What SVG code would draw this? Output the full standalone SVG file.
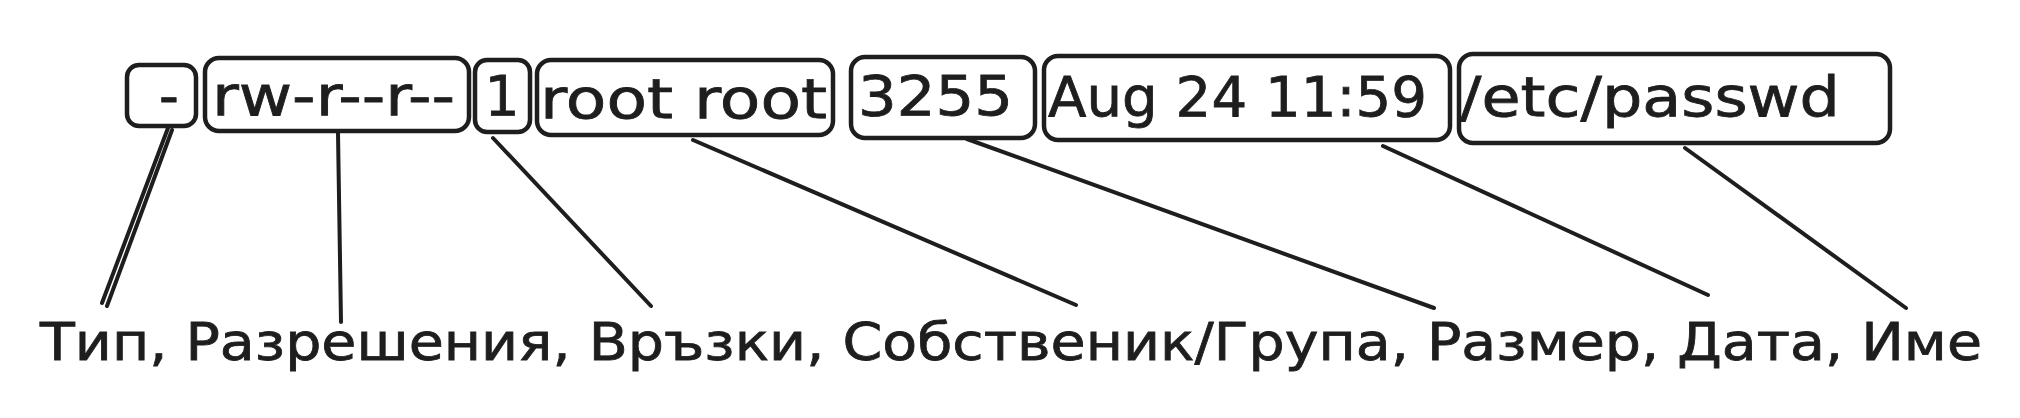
<svg xmlns="http://www.w3.org/2000/svg" width="2020" height="418" viewBox="0 0 2020 418">
<style>
.box{fill:none;stroke:#1e1e1e;stroke-width:4.5;stroke-linejoin:round}
.ln{fill:none;stroke:#1e1e1e;stroke-width:4;stroke-linecap:round}
.t{font-family:"DejaVu Sans","Liberation Sans",sans-serif;font-size:55px;fill:#1e1e1e;stroke:#1e1e1e;stroke-width:0.8}
.lbl{font-family:"DejaVu Sans","Liberation Sans",sans-serif;font-size:51px;fill:#1e1e1e;stroke:#1e1e1e;stroke-width:0.8}
</style>
<rect width="2020" height="418" fill="#ffffff"/>
<g id="connectors">
<line class="ln" x1="168" y1="128" x2="102" y2="303"/>
<line class="ln" x1="172" y1="130" x2="107" y2="306"/>
<line class="ln" x1="338" y1="133" x2="341" y2="322"/>
<line class="ln" x1="493" y1="138" x2="651" y2="306"/>
<line class="ln" x1="693" y1="140" x2="1076" y2="305"/>
<line class="ln" x1="967" y1="139" x2="1434" y2="308"/>
<line class="ln" x1="1383" y1="146" x2="1708" y2="295"/>
<line class="ln" x1="1685" y1="148" x2="1906" y2="308"/>
</g>
<g id="node-type">
<rect class="box" x="127" y="65" width="69" height="61" rx="12"/>
<text class="t" x="169" y="115" text-anchor="middle">-</text>
</g>
<g id="node-perms">
<rect class="box" x="205" y="58" width="264" height="73" rx="14"/>
<text class="t" x="212" y="115" textLength="243" lengthAdjust="spacingAndGlyphs">rw-r--r--</text>
</g>
<g id="node-links">
<rect class="box" x="475" y="60" width="55" height="72" rx="12"/>
<text class="t" x="502" y="115" text-anchor="middle">1</text>
</g>
<g id="node-owner">
<rect class="box" x="537" y="60" width="296" height="75" rx="14"/>
<text class="t" x="540" y="118" textLength="287" lengthAdjust="spacingAndGlyphs">root root</text>
</g>
<g id="node-size">
<rect class="box" x="851" y="57" width="184" height="81" rx="14"/>
<text class="t" x="858" y="115" textLength="155" lengthAdjust="spacingAndGlyphs">3255</text>
</g>
<g id="node-date">
<rect class="box" x="1044" y="56" width="406" height="84" rx="14"/>
<text class="t" x="1048" y="116" textLength="379" lengthAdjust="spacingAndGlyphs">Aug 24 11:59</text>
</g>
<g id="node-name">
<rect class="box" x="1459" y="54" width="431" height="89" rx="14"/>
<text class="t" x="1460" y="116" textLength="380" lengthAdjust="spacingAndGlyphs">/etc/passwd</text>
</g>
<g id="label">
<text class="lbl" x="40" y="360" textLength="1942" lengthAdjust="spacingAndGlyphs">Тип, Разрешения, Връзки, Собственик/Група, Размер, Дата, Име</text>
</g>
</svg>
